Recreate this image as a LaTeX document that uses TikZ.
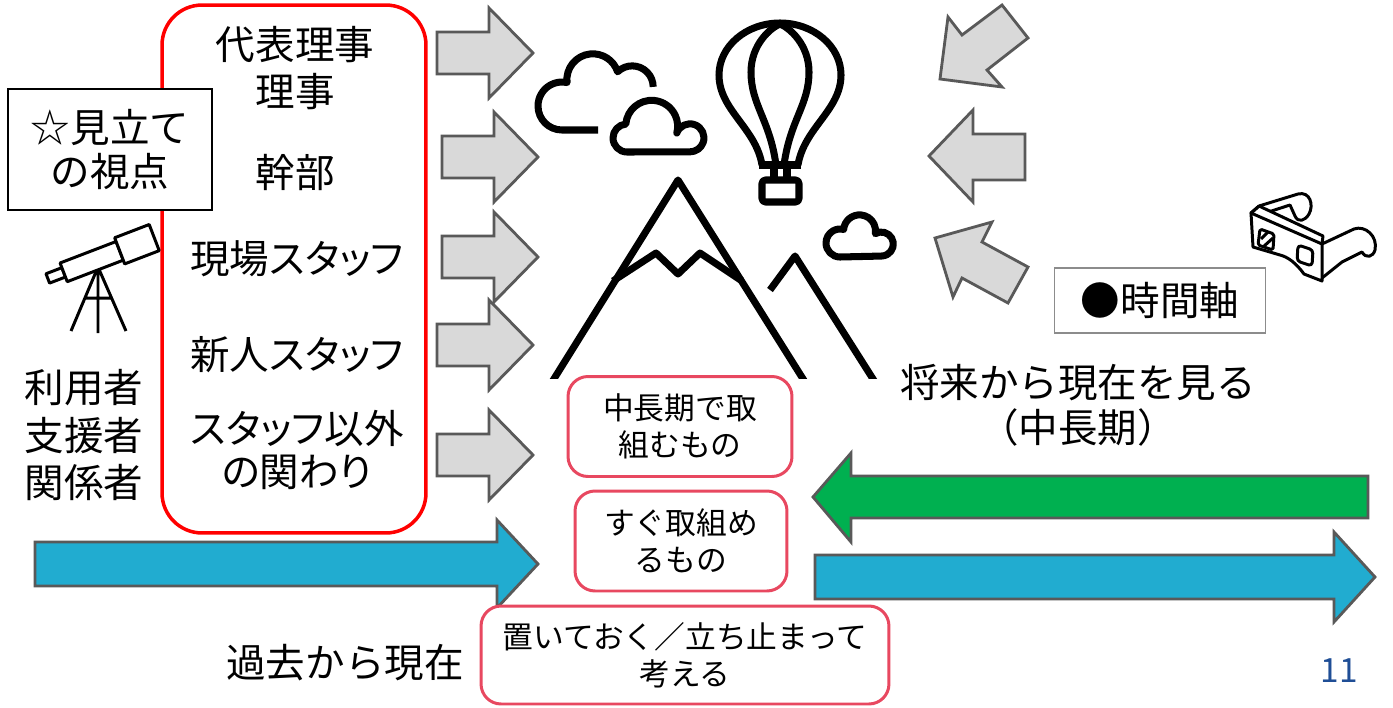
\documentclass[tikz,border=0pt]{standalone}
\usepackage{fontspec}
\setmainfont{Noto Sans CJK JP}
\newfontfamily\kanafont[RawFeature=+palt]{Noto Sans CJK JP}
\definecolor{framered}{RGB}{255,0,0}
\definecolor{boxpink}{RGB}{232,72,96}
\definecolor{arrowgray}{RGB}{217,217,217}
\definecolor{edgegray}{RGB}{89,89,89}
\definecolor{pastblue}{RGB}{33,172,208}
\definecolor{futuregreen}{RGB}{0,176,80}
\definecolor{pagenum}{RGB}{31,78,150}
\tikzset{
  bigtext/.style={align=center, inner sep=0pt, font=\fontsize{22.5}{27}\selectfont},
  kanatext/.style={align=center, inner sep=0pt, font=\kanafont\fontsize{22.5}{25}\selectfont},
  smalltext/.style={align=center, inner sep=0pt, font=\fontsize{17.5}{21}\selectfont},
  staffframe/.style={draw=framered, line width=2pt, rounded corners=0.8cm, minimum width=5.28cm, minimum height=10.56cm},
  taskbox/.style={draw=boxpink, line width=1.7pt, rounded corners=0.4cm, fill=white, smalltext},
  labelbox/.style={draw, fill=white, line width=0.8pt, bigtext},
  grayarrow/.style={fill=arrowgray, draw=edgegray, line width=1.6pt},
  timearrow/.style={draw=edgegray, line width=1.6pt},
  icon/.style={line width=4pt, line join=round},
  iconthin/.style={line width=1.7pt, line join=round}
}

\begin{document}
\begin{tikzpicture}[x=0.02cm, y=-0.02cm]
  \fill[white] (0,0) rectangle (1393,707);
  \useasboundingbox (0,0) rectangle (1393,707);

  % who is looking: staff levels
  \node[staffframe] (staff) at (294,269) {};
  \node[bigtext, font=\fontsize{22.5}{27}\selectfont] (board) at (295,68) {代表理事\\理事};
  \node[bigtext] (exec) at (295,172) {幹部};
  \node[kanatext] (field) at (297,259) {現場スタッフ};
  \node[kanatext] (newstaff) at (297,355) {新人スタッフ};
  \node[kanatext] (others) at (297,450) {スタッフ以外\\の関わり};

  \node[labelbox, font=\fontsize{22.5}{25.5}\selectfont, minimum width=4.08cm, minimum height=2.42cm] (view) at (110,149.5) {☆見立て\\の視点};
  \node[bigtext] (users) at (84,435) {利用者\\支援者\\関係者};

  % telescope
  \draw[iconthin] (98,267) -- (71,331) (98,267) -- (98,333) (98,267) -- (126,331)
    (85,298) -- (112,298);
  \begin{scope}[shift={(101,258)}, rotate=21]
    \draw[iconthin, fill=white] (-57,-5) rectangle (-40,5);
    \draw[iconthin, fill=white] (-40,-10) rectangle (20,10);
    \draw[iconthin, fill=white] (20,-14) rectangle (57,14);
  \end{scope}

  % gray arrows into the scene
  \foreach \ax/\ay in {437/53, 442/157, 442/257, 437/345, 437/455}
    \draw[grayarrow] (\ax,\ay-21) -- ++(52,0) -- ++(0,-24) -- ++(44,45)
      -- ++(-44,45) -- ++(0,-24) -- ++(-52,0) -- cycle;

  \draw[grayarrow] (1002,5) -- (1028,38) -- (987,70) -- (1002,87) -- (940,79)
    -- (948,17) -- (962,35) -- cycle;
  \draw[grayarrow] (1025,134) -- (973,134) -- (973,110) -- (929,156) -- (973,202)
    -- (973,180) -- (1025,180) -- cycle;
  \draw[grayarrow] (935,238) -- (992,222) -- (982,242) -- (1028,267) -- (1008,303)
    -- (962,278) -- (953,297) -- cycle;

  % mountains
  \begin{scope}
    \clip (500,0) rectangle (900,378);
    \draw[icon] (547,390) -- (678,180) -- (810,390);
    \draw[icon] (613,281) -- (656,253) -- (678,274) -- (700,253) -- (742,281);
    \draw[icon] (770,290) -- (795,256) -- (880,390);
  \end{scope}

  % clouds
  \draw[icon] (598,130) -- (562,130) arc[start angle=90, end angle=282, radius=24]
    arc[start angle=174, end angle=342, radius=26]
    arc[start angle=226, end angle=360, radius=21];
  \draw[icon] (627,152) arc[start angle=90, end angle=265, radius=14]
    arc[start angle=185, end angle=375, radius=26]
    arc[start angle=200, end angle=450, radius=14] -- cycle;
  \draw[icon] (840,257) arc[start angle=90, end angle=285, radius=14]
    arc[start angle=185, end angle=370, radius=16]
    arc[start angle=240, end angle=450, radius=12] -- cycle;

  % balloon
  \draw[icon] (762,165) .. controls (756,128) and (719,110) .. (719,75)
    arc[start angle=180, end angle=360, x radius=61, y radius=52]
    .. controls (841,110) and (804,128) .. (798,165);
  \draw[icon] (776,165) .. controls (770,120) and (751,105) .. (751,72)
    .. controls (751,45) and (770,28) .. (780,24)
    .. controls (790,28) and (809,45) .. (809,72)
    .. controls (809,105) and (790,120) .. (784,165);
  \draw[icon] (759,165) -- (801,165) (774,165) -- (774,180) (787,165) -- (787,180);
  \draw[icon, rounded corners=2pt] (762,180) rectangle (799,202);

  % 3D glasses
  \draw[iconthin, fill=white] (1259,206) -- (1298,194) .. controls (1310,191) and (1314,205) .. (1309,214)
    .. controls (1305,221) and (1298,223) .. (1295,216) -- (1290,205) -- (1256,216);
  \draw[iconthin, fill=white] (1322,244) -- (1354,229) .. controls (1365,225) and (1378,236) .. (1375,250)
    .. controls (1373,257) and (1366,259) .. (1362,252) -- (1342,262) -- (1322,278);
  \draw[iconthin, fill=white] (1251,213) -- (1259,206) -- (1323,236) -- (1322,244) -- (1322,281)
    -- (1304,274) .. controls (1296,263) and (1288,257) .. (1280,255) -- (1253,247) -- cycle;
  \draw[iconthin] (1259,206) -- (1251,213) -- (1322,244);
  \draw[iconthin, rounded corners=1pt] (1260,229) -- (1274,234) -- (1273,250) -- (1258,245) -- cycle;
  \draw[iconthin] (1261,239) -- (1268,232) (1263,247) -- (1273,238);
  \draw[iconthin, rounded corners=2pt] (1298,245) -- (1313,250) -- (1312,266) -- (1297,261) -- cycle;

  % time axis
  \node[labelbox, draw=black!45, minimum width=4.22cm, minimum height=1.3cm] (timebox) at (1160,300.5) {●時間軸};
  \node[bigtext, font=\fontsize{22.5}{25.5}\selectfont] (future) at (1078,405) {将来から現在を見る\\（中長期）};

  \draw[timearrow, fill=futuregreen] (1368,476) -- (851,476) -- (851,453) -- (813,497)
    -- (851,542) -- (851,518) -- (1368,518) -- cycle;
  \draw[timearrow, fill=pastblue] (35,542) -- (497,542) -- (497,520) -- (538,564)
    -- (497,608) -- (497,586) -- (35,586) -- cycle;
  \draw[timearrow, fill=pastblue] (815,555) -- (1334,555) -- (1334,532) -- (1375,577)
    -- (1334,622) -- (1334,599) -- (815,599) -- cycle;

  \node[bigtext] (past) at (345,663) {過去から現在};

  % what to work on
  \node[taskbox, minimum width=4.48cm, minimum height=2cm] (longterm) at (680,426.5) {中長期で取\\組むもの};
  \node[taskbox, minimum width=4.24cm, minimum height=2cm] (now) at (681,541) {すぐ取組め\\るもの};
  \node[taskbox, minimum width=8.16cm, minimum height=1.96cm] (pause) at (685,655) {置いておく／立ち止まって\\考える};

  \node[font=\fontsize{19}{19}\selectfont, text=pagenum, inner sep=0pt] (page) at (1339,671) {11};
\end{tikzpicture}
\end{document}
